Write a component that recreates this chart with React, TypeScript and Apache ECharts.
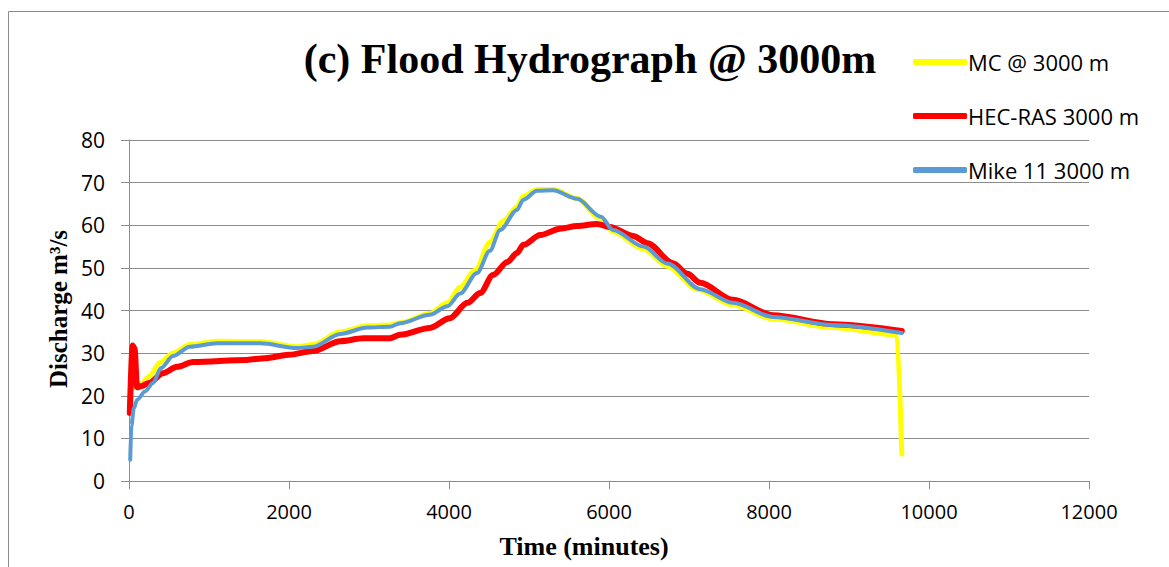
import React, { useEffect, useRef } from "react";
import * as echarts from "echarts";

const mcTime = [60, 150, 250, 390, 550, 760, 1100, 1640, 2100, 2300, 2640, 2980, 3260, 3390, 3760, 3980, 4140, 4330, 4510, 4680, 4850, 4930, 5100, 5300, 5600, 5890, 6050, 6430, 6730, 7100, 7550, 8050, 8800, 9600, 9660];
const mcFlow = [22, 22.8, 24.5, 27.8, 30, 32, 32.8, 32.7, 31.5, 32, 35, 36.4, 36.6, 37.1, 39.3, 41.8, 45.5, 49.5, 56, 61, 64.3, 66.8, 68.4, 68.4, 66.3, 61.6, 58.5, 54.4, 50.4, 45, 41.3, 38, 36, 34.3, 6.3];

const hecTime = [10, 45, 70, 100, 160, 250, 425, 600, 800, 1475, 1700, 2000, 2300, 2640, 2930, 3260, 3390, 3760, 4010, 4230, 4390, 4550, 4730, 4850, 4930, 5140, 5390, 5600, 5850, 6010, 6300, 6480, 6800, 6980, 7140, 7550, 8050, 8800, 9660];
const hecFlow = [16, 31.8, 31, 22, 22.3, 23, 25.3, 26.8, 27.9, 28.4, 28.8, 29.6, 30.5, 32.8, 33.5, 33.5, 34.3, 35.9, 38.2, 41.8, 44.1, 48.3, 51.4, 53.5, 55.4, 57.7, 59.2, 59.8, 60.3, 59.6, 57.5, 55.8, 51.1, 48.6, 46.5, 42.5, 38.9, 36.8, 35.2];

const mikeTime = [15, 30, 60, 100, 200, 300, 400, 550, 760, 1100, 1640, 2100, 2300, 2640, 2980, 3260, 3390, 3760, 3980, 4140, 4350, 4510, 4640, 4850, 4930, 5100, 5300, 5600, 5900, 6050, 6430, 6730, 7140, 7550, 8050, 8800, 9660];
const mikeFlow = [5, 13, 17, 19, 21, 23, 26.5, 29.3, 31.5, 32.3, 32.3, 31.2, 31.5, 34.5, 36, 36.2, 37, 39, 41, 44, 48.8, 54, 58.9, 63.6, 66, 68.1, 68.2, 66.2, 62, 58.9, 55, 51, 45, 41.8, 38.5, 36.6, 34.7];

const seriesNames = ["MC @ 3000 m", "HEC-RAS 3000 m", "Mike 11 3000 m"];
const xTicks = [0, 2000, 4000, 6000, 8000, 10000, 12000];
const yTicks = [0, 10, 20, 30, 40, 50, 60, 70, 80];

const zip = (t: number[], v: number[]) => t.map((x, i) => [x, v[i]]);

export default function App() {
  const ref = useRef<HTMLDivElement>(null);
  useEffect(() => {
    if (!ref.current) return;
    const chart = echarts.init(ref.current, null, { renderer: "svg" });
    const gray = "#8c8c8c";
    const labelFont = "'Open Sans', 'Liberation Sans', sans-serif";
    const serif = "'Liberation Serif', 'Times New Roman', serif";
    chart.setOption({
      animation: false,
      backgroundColor: "#ffffff",
      grid: { left: 129, right: 80, top: 140, bottom: 86, containLabel: false },
      legend: {
        orient: "vertical",
        left: 908,
        top: 43,
        itemWidth: 54,
        itemHeight: 6,
        itemGap: 26,
        icon: "roundRect",
        data: seriesNames,
        textStyle: {
          fontFamily: labelFont,
          fontSize: 22,
          lineHeight: 28,
          color: "#000",
          padding: [0, 0, 0, -4],
        },
      },
      xAxis: {
        type: "value",
        min: xTicks[0],
        max: xTicks[xTicks.length - 1],
        interval: 2000,
        axisLine: { lineStyle: { color: gray } },
        axisTick: { show: true, inside: false, length: 8, lineStyle: { color: gray } },
        splitLine: { show: false },
        axisLabel: {
          margin: 20,
          fontFamily: labelFont,
          fontSize: 20,
          color: "#000",
          formatter: (v: number) => String(v),
        },
      },
      yAxis: {
        type: "value",
        min: yTicks[0],
        max: yTicks[yTicks.length - 1],
        interval: 10,
        axisLine: { show: true, lineStyle: { color: gray } },
        axisTick: { show: true, inside: false, length: 8, lineStyle: { color: gray } },
        splitLine: { show: true, lineStyle: { color: gray, width: 1 } },
        axisLabel: { margin: 24, fontFamily: labelFont, fontSize: 21, color: "#000" },
      },
      graphic: [
        { type: "line", shape: { x1: 8.5, y1: 11.5, x2: 1169, y2: 11.5 }, style: { stroke: gray, lineWidth: 1 } },
        { type: "line", shape: { x1: 8.5, y1: 11.5, x2: 8.5, y2: 567 }, style: { stroke: gray, lineWidth: 1 } },
        {
          type: "text",
          x: 590,
          y: 59,
          style: {
            text: "(c) Flood Hydrograph @ 3000m",
            font: `bold 42px ${serif}`,
            fill: "#000",
            textAlign: "center",
            textVerticalAlign: "middle",
          },
        },
        {
          type: "text",
          x: 584,
          y: 546,
          style: {
            text: "Time (minutes)",
            font: `bold 26px ${serif}`,
            fill: "#000",
            textAlign: "center",
            textVerticalAlign: "middle",
          },
        },
        {
          type: "text",
          x: 58,
          y: 309,
          rotation: Math.PI / 2,
          style: {
            text: "Discharge m³/s",
            font: `bold 25px ${serif}`,
            fill: "#000",
            textAlign: "center",
            textVerticalAlign: "middle",
          },
        },
      ],
      series: [
        {
          name: seriesNames[0],
          type: "line",
          data: zip(mcTime, mcFlow),
          showSymbol: false,
          symbol: "none",
          smooth: 0.3,
          smoothMonotone: "x",
          itemStyle: { color: "#ffff00" },
          lineStyle: { color: "#ffff00", width: 5, cap: "round", join: "round" },
          z: 2,
        },
        {
          name: seriesNames[1],
          type: "line",
          data: zip(hecTime, hecFlow),
          showSymbol: false,
          symbol: "none",
          smooth: 0.3,
          smoothMonotone: "x",
          itemStyle: { color: "#ff0000" },
          lineStyle: { color: "#ff0000", width: 6, cap: "round", join: "round" },
          z: 3,
        },
        {
          name: seriesNames[2],
          type: "line",
          data: zip(mikeTime, mikeFlow),
          showSymbol: false,
          symbol: "none",
          smooth: 0.3,
          smoothMonotone: "x",
          itemStyle: { color: "#5b9bd5" },
          lineStyle: { color: "#5b9bd5", width: 4, cap: "round", join: "round" },
          z: 4,
        },
      ],
    });
    return () => chart.dispose();
  }, []);
  return (
    <div
      ref={ref}
      style={{ position: "fixed", left: 0, top: 0, width: 1169, height: 567 }}
    />
  );
}
